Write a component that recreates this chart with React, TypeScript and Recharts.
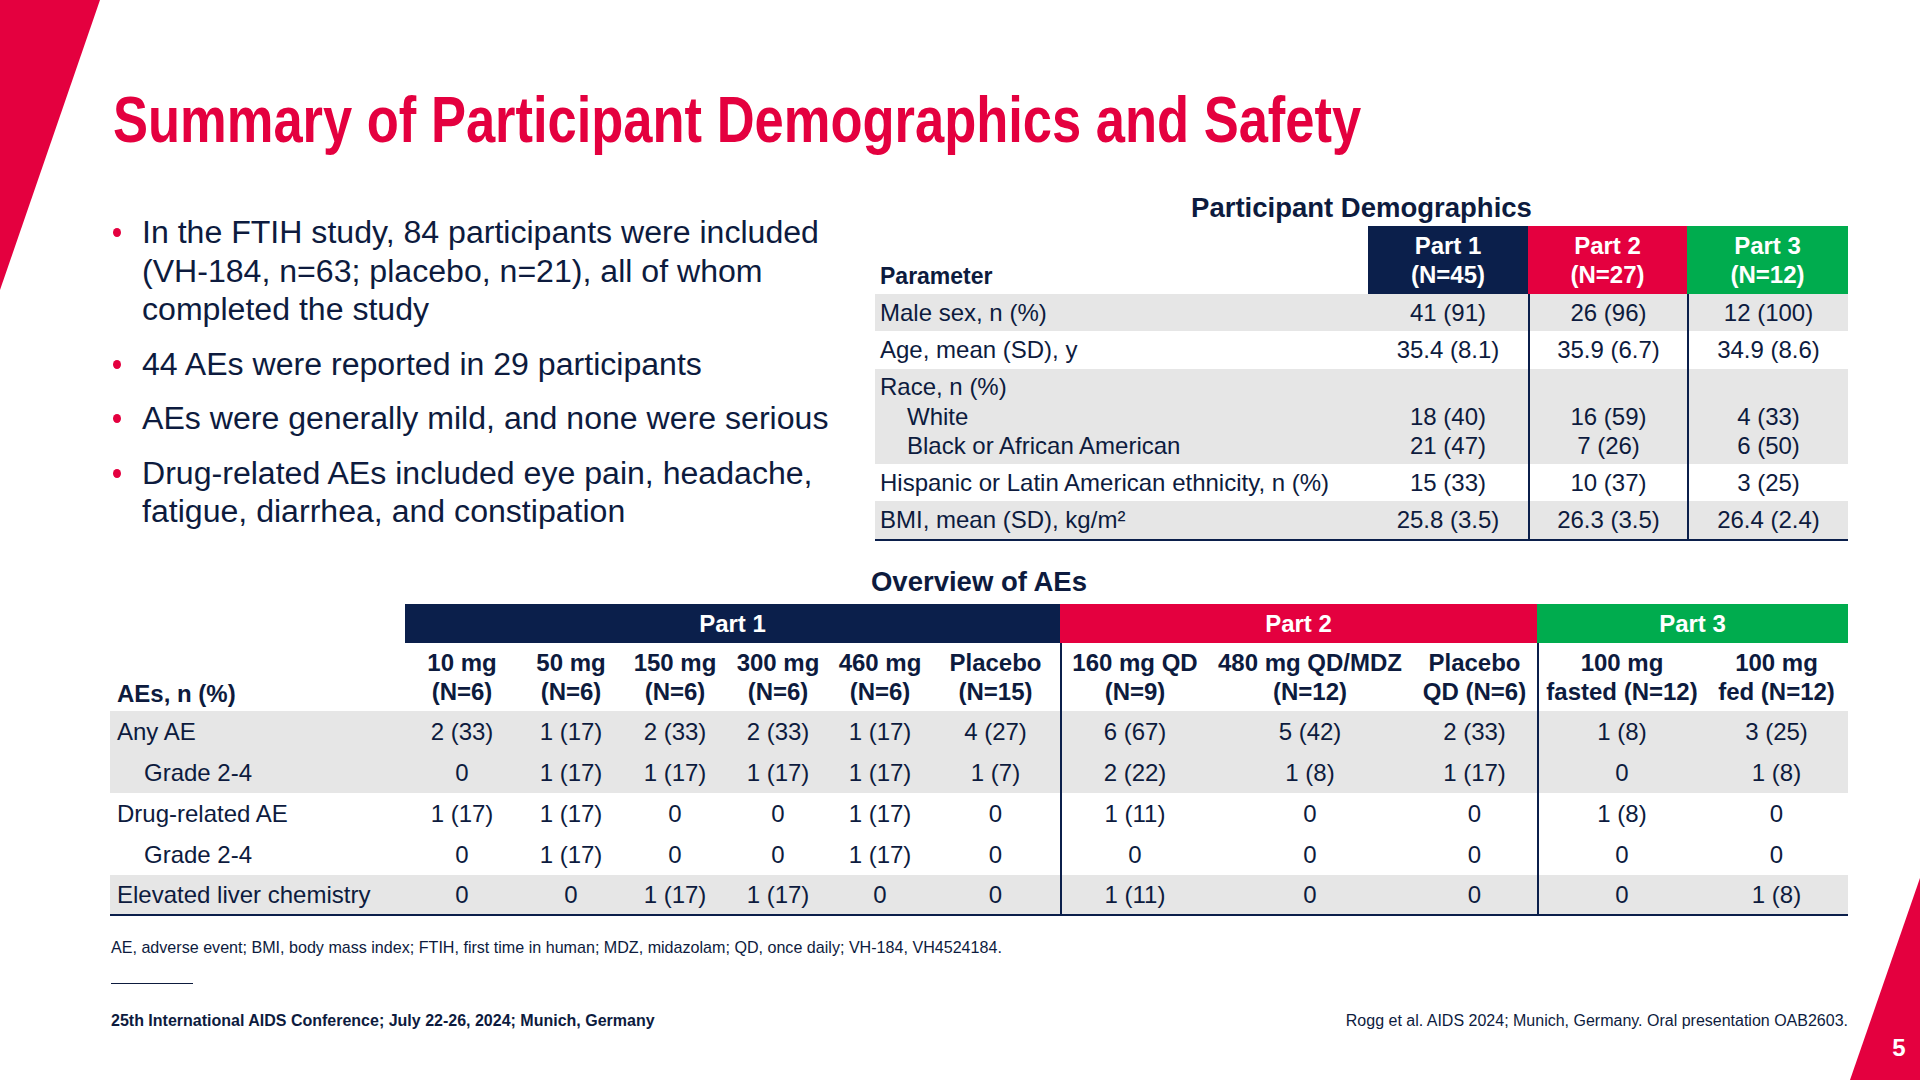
import React from 'react';
import { Surface, Polygon } from 'recharts';

const NAVY = '#0b1f4b';
const TEXT = '#0d1b3e';
const RED = '#e4003f';
const GREEN = '#00ac4e';
const GRAY = '#e6e6e6';
const FONT = '"Liberation Sans", Arial, Helvetica, sans-serif';

const bullets = [
  ['In the FTIH study, 84 participants were included', '(VH-184, n=63; placebo, n=21), all of whom', 'completed the study'],
  ['44 AEs were reported in 29 participants'],
  ['AEs were generally mild, and none were serious'],
  ['Drug-related AEs included eye pain, headache,', 'fatigue, diarrhea, and constipation'],
];

// demographics table
const demoParts = ['Part 1', 'Part 2', 'Part 3'];
const demoCounts = ['(N=45)', '(N=27)', '(N=12)'];
const maleSex = ['41 (91)', '26 (96)', '12 (100)'];
const ageMean = ['35.4 (8.1)', '35.9 (6.7)', '34.9 (8.6)'];
const raceWhite = ['18 (40)', '16 (59)', '4 (33)'];
const raceBlack = ['21 (47)', '7 (26)', '6 (50)'];
const hispanic = ['15 (33)', '10 (37)', '3 (25)'];
const bmiMean = ['25.8 (3.5)', '26.3 (3.5)', '26.4 (2.4)'];

// AE table
const aeGroups = ['Part 1', 'Part 2', 'Part 3'];
const aeGroupSpans = [6, 3, 2];
const aeDoses = ['10 mg', '50 mg', '150 mg', '300 mg', '460 mg', 'Placebo', '160 mg QD', '480 mg QD/MDZ', 'Placebo', '100 mg', '100 mg'];
const aeCounts = ['(N=6)', '(N=6)', '(N=6)', '(N=6)', '(N=6)', '(N=15)', '(N=9)', '(N=12)', 'QD (N=6)', 'fasted (N=12)', 'fed (N=12)'];
const anyAE = ['2 (33)', '1 (17)', '2 (33)', '2 (33)', '1 (17)', '4 (27)', '6 (67)', '5 (42)', '2 (33)', '1 (8)', '3 (25)'];
const anyAEGrade24 = ['0', '1 (17)', '1 (17)', '1 (17)', '1 (17)', '1 (7)', '2 (22)', '1 (8)', '1 (17)', '0', '1 (8)'];
const drugAE = ['1 (17)', '1 (17)', '0', '0', '1 (17)', '0', '1 (11)', '0', '0', '1 (8)', '0'];
const drugAEGrade24 = ['0', '1 (17)', '0', '0', '1 (17)', '0', '0', '0', '0', '0', '0'];
const liverChem = ['0', '0', '1 (17)', '1 (17)', '0', '0', '1 (11)', '0', '0', '0', '1 (8)'];

const demoColW = [493, 160, 159, 161];
const aeLabelW = 295;
const aeColW = [114, 104, 104, 102, 102, 129, 148, 204, 125, 168, 143];
const groupColors = [NAVY, RED, GREEN];

function DemographicsTable() {
  const rows = [
    { labels: ['Male sex, n (%)'], values: [maleSex], gray: true, h: 37 },
    { labels: ['Age, mean (SD), y'], values: [ageMean], gray: false, h: 38 },
    { labels: ['Race, n (%)', 'White', 'Black or African American'], values: [null, raceWhite, raceBlack], gray: true, h: 95 },
    { labels: ['Hispanic or Latin American ethnicity, n (%)'], values: [hispanic], gray: false, h: 37 },
    { labels: ['BMI, mean (SD), kg/m\u00b2'], values: [bmiMean], gray: true, h: 38 },
  ];
  return (
    <div style={{ position: 'absolute', left: 875, top: 190, width: 973 }}>
      <div style={{ textAlign: 'center', fontWeight: 700, fontSize: 27.5, height: 36, lineHeight: '36px' }}>
        Participant Demographics
      </div>
      <div style={{ display: 'flex', height: 68 }}>
        <div style={{ width: demoColW[0], display: 'flex', alignItems: 'flex-end', paddingLeft: 5, paddingBottom: 3, boxSizing: 'border-box', fontWeight: 700, fontSize: 23, lineHeight: '29px' }}>
          Parameter
        </div>
        {demoParts.map((p, i) => (
          <div key={p} style={{ width: demoColW[i + 1], background: groupColors[i], color: '#fff', fontWeight: 700, textAlign: 'center', display: 'flex', flexDirection: 'column', justifyContent: 'center', lineHeight: '29px' }}>
            <div>{p}</div>
            <div>{demoCounts[i]}</div>
          </div>
        ))}
      </div>
      {rows.map((r, ri) => (
        <div key={ri} style={{ display: 'flex', height: r.h, background: r.gray ? GRAY : '#fff', borderBottom: ri === rows.length - 1 ? `2.5px solid ${NAVY}` : 'none' }}>
          <div style={{ width: demoColW[0], display: 'flex', flexDirection: 'column', justifyContent: 'center', paddingLeft: 5, boxSizing: 'border-box', lineHeight: '29.5px' }}>
            {r.labels.map((l, li) => (
              <div key={li} style={{ paddingLeft: li > 0 ? 27 : 0 }}>{l}</div>
            ))}
          </div>
          {[0, 1, 2].map((ci) => (
            <div key={ci} style={{ width: demoColW[ci + 1], boxSizing: 'border-box', borderLeft: ci > 0 ? `2px solid ${NAVY}` : 'none', display: 'flex', flexDirection: 'column', justifyContent: 'center', textAlign: 'center', lineHeight: '29.5px' }}>
              {r.values.map((v, vi) => (
                <div key={vi}>{v ? v[ci] : '\u00a0'}</div>
              ))}
            </div>
          ))}
        </div>
      ))}
    </div>
  );
}

function AETable() {
  const rows = [
    { label: 'Any AE', values: anyAE, indent: false, gray: true, h: 42 },
    { label: 'Grade 2-4', values: anyAEGrade24, indent: true, gray: true, h: 40 },
    { label: 'Drug-related AE', values: drugAE, indent: false, gray: false, h: 41 },
    { label: 'Grade 2-4', values: drugAEGrade24, indent: true, gray: false, h: 41 },
    { label: 'Elevated liver chemistry', values: liverChem, indent: false, gray: true, h: 39 },
  ];
  const groupStart = [0, 6, 9];
  const groupW = aeGroupSpans.map((s, gi) => aeColW.slice(groupStart[gi], groupStart[gi] + s).reduce((a, b) => a + b, 0));
  const divider = (ci: number) => (ci === 6 || ci === 9 ? `2px solid ${NAVY}` : 'none');
  return (
    <div style={{ position: 'absolute', left: 110, top: 564, width: 1738 }}>
      <div style={{ textAlign: 'center', fontWeight: 700, fontSize: 27.5, height: 36, lineHeight: '36px' }}>
        Overview of AEs
      </div>
      <div style={{ height: 4 }} />
      <div style={{ display: 'flex', height: 39 }}>
        <div style={{ width: aeLabelW }} />
        {aeGroups.map((g, gi) => (
          <div key={g} style={{ width: groupW[gi], background: groupColors[gi], color: '#fff', fontWeight: 700, textAlign: 'center', lineHeight: '39px' }}>
            {g}
          </div>
        ))}
      </div>
      <div style={{ display: 'flex', height: 68 }}>
        <div style={{ width: aeLabelW, display: 'flex', alignItems: 'flex-end', paddingLeft: 7, paddingBottom: 3, boxSizing: 'border-box', fontWeight: 700, lineHeight: '29px' }}>
          AEs, n (%)
        </div>
        {aeDoses.map((d, ci) => (
          <div key={ci} style={{ width: aeColW[ci], boxSizing: 'border-box', borderLeft: divider(ci), display: 'flex', flexDirection: 'column', justifyContent: 'center', textAlign: 'center', fontWeight: 700, lineHeight: '29px', whiteSpace: 'nowrap' }}>
            <div>{d}</div>
            <div>{aeCounts[ci]}</div>
          </div>
        ))}
      </div>
      {rows.map((r, ri) => (
        <div key={ri} style={{ display: 'flex', height: r.h, background: r.gray ? GRAY : '#fff', borderBottom: ri === rows.length - 1 ? `2.5px solid ${NAVY}` : 'none' }}>
          <div style={{ width: aeLabelW, paddingLeft: r.indent ? 34 : 7, boxSizing: 'border-box', display: 'flex', alignItems: 'center' }}>
            {r.label}
          </div>
          {r.values.map((v, ci) => (
            <div key={ci} style={{ width: aeColW[ci], boxSizing: 'border-box', borderLeft: divider(ci), display: 'flex', alignItems: 'center', justifyContent: 'center' }}>
              {v}
            </div>
          ))}
        </div>
      ))}
    </div>
  );
}

export default function App() {
  return (
    <div style={{ position: 'fixed', left: 0, top: 0, width: 1920, height: 1080, background: '#fff', overflow: 'hidden', fontFamily: FONT, color: TEXT, fontSize: 24 }}>
      <Surface width={1920} height={1080} viewBox={{ x: 0, y: 0, width: 1920, height: 1080 }} style={{ position: 'absolute', left: 0, top: 0 }}>
        <Polygon points={[{ x: 0, y: 0 }, { x: 100, y: 0 }, { x: 0, y: 290 }]} fill={RED} />
        <Polygon points={[{ x: 1920, y: 878 }, { x: 1920, y: 1080 }, { x: 1850, y: 1080 }]} fill={RED} />
      </Surface>

      <div style={{ position: 'absolute', left: 113, top: 88, fontSize: 64, lineHeight: '64px', fontWeight: 700, color: RED, whiteSpace: 'nowrap', transform: 'scaleX(0.82)', transformOrigin: 'left top' }}>
        Summary of Participant Demographics and Safety
      </div>

      <div style={{ position: 'absolute', left: 142, top: 213, fontSize: 32.1, lineHeight: '38.5px', whiteSpace: 'nowrap' }}>
        {bullets.map((b, i) => (
          <div key={i} style={{ position: 'relative', marginTop: i === 0 ? 0 : 16 }}>
            <div style={{ position: 'absolute', left: -29, top: 15, width: 8, height: 9, borderRadius: '50%', background: RED }} />
            {b.map((line, li) => (
              <div key={li}>{line}</div>
            ))}
          </div>
        ))}
      </div>

      <DemographicsTable />
      <AETable />

      <div style={{ position: 'absolute', left: 111, top: 937, fontSize: 16.1, lineHeight: '20px', whiteSpace: 'nowrap' }}>
        AE, adverse event; BMI, body mass index; FTIH, first time in human; MDZ, midazolam; QD, once daily; VH-184, VH4524184.
      </div>
      <div style={{ position: 'absolute', left: 111, top: 983, width: 82, height: 1, background: TEXT }} />
      <div style={{ position: 'absolute', left: 111, top: 1011, fontSize: 16, lineHeight: '20px', fontWeight: 700, whiteSpace: 'nowrap' }}>
        25th International AIDS Conference; July 22-26, 2024; Munich, Germany
      </div>
      <div style={{ position: 'absolute', right: 1920 - 1848, top: 1011, fontSize: 16, lineHeight: '20px', whiteSpace: 'nowrap' }}>
        Rogg et al. AIDS 2024; Munich, Germany. Oral presentation OAB2603.
      </div>
      <div style={{ position: 'absolute', left: 1887, top: 1034, width: 24, fontSize: 24, lineHeight: '28px', fontWeight: 700, color: '#fff', textAlign: 'center' }}>
        5
      </div>
    </div>
  );
}
